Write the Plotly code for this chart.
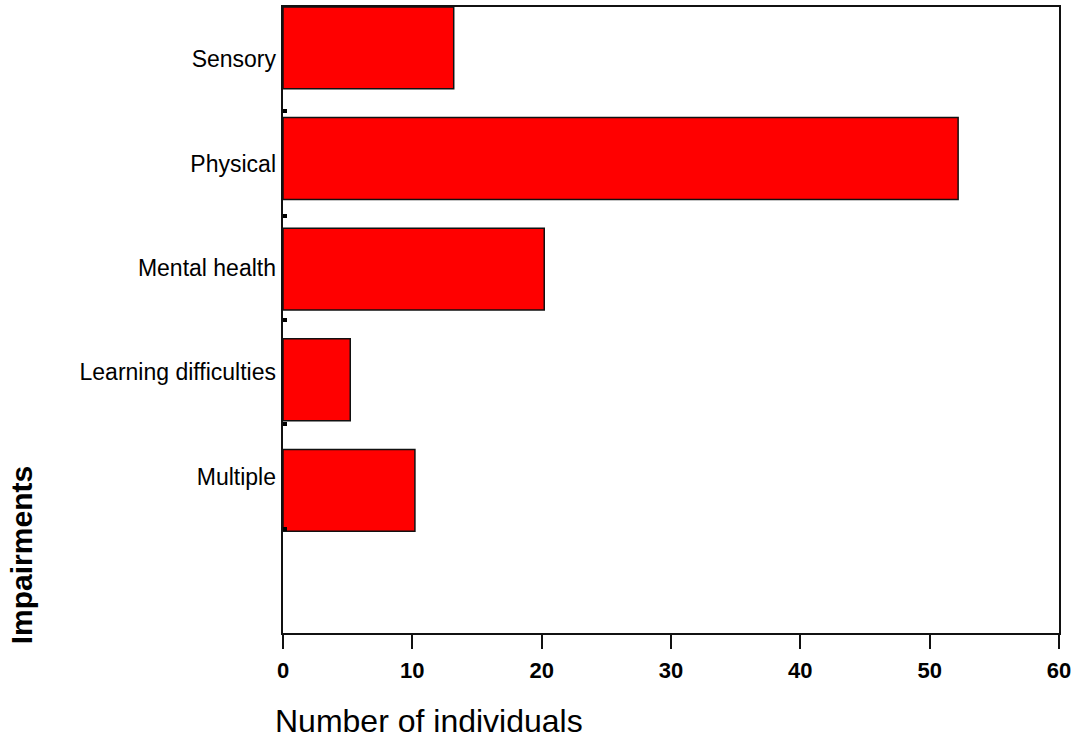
import plotly.graph_objects as go

categories = ["Sensory", "Physical", "Mental health", "Learning difficulties", "Multiple"]
counts = [13.2, 52.2, 20.2, 5.2, 10.2]
x_ticks = [0, 10, 20, 30, 40, 50, 60]
x_title = "Number of individuals"
y_title = "Impairments"

FONT = "Liberation Sans, Arial, sans-serif"

fig = go.Figure()
fig.add_trace(go.Bar(
    x=counts, y=categories, orientation="h",
    marker=dict(color="#FF0000", line=dict(color="#111111", width=1.5)),
    showlegend=False, yaxis="y",
))
# invisible trace carrying the label axis
fig.add_trace(go.Scatter(x=[None], y=[None], yaxis="y2", mode="markers",
                         showlegend=False, hoverinfo="skip"))

fig.update_layout(
    width=1077, height=742,
    margin=dict(l=283, r=18, t=5, b=109),
    paper_bgcolor="white", plot_bgcolor="white",
    bargap=0.26,
    font=dict(family=FONT, color="black"),
    xaxis=dict(
        range=[0, 60], tickvals=x_ticks, ticktext=["<b>%d</b>" % v for v in x_ticks],
        ticks="outside", ticklen=14, tickwidth=2, tickcolor="#111111",
        showline=True, linecolor="#111111", linewidth=2, mirror=True,
        showgrid=False, zeroline=False,
        tickfont=dict(size=22, family=FONT, color="black"),
        ticklabelstandoff=3,
    ),
    yaxis=dict(
        type="category", categoryorder="array", categoryarray=categories,
        range=[5.289, -0.369],
        showticklabels=False, ticks="",
        showline=True, linecolor="#111111", linewidth=2, mirror=True,
        showgrid=False, zeroline=False,
    ),
    yaxis2=dict(
        overlaying="y", side="left", range=[6, 0],
        tickvals=[0.5, 1.5, 2.5, 3.5, 4.5], ticktext=categories,
        ticks="", showline=False, showgrid=False, zeroline=False,
        tickfont=dict(size=23, family=FONT, color="black"),
        minor=dict(tickvals=[1, 2, 3, 4, 5], ticks="inside", ticklen=4,
                   tickwidth=4, tickcolor="black"),
        ticklabelstandoff=6,
    ),
    annotations=[
        dict(text=x_title, xref="paper", yref="paper", x=-0.013, y=-0.141,
             xanchor="left", yanchor="middle", showarrow=False,
             font=dict(size=32, family=FONT, color="black")),
        dict(text="<b>" + y_title + "</b>", xref="paper", yref="paper",
             x=-0.337, y=0.125, xanchor="center", yanchor="middle",
             textangle=-90, showarrow=False,
             font=dict(size=30, family=FONT, color="black")),
    ],
)

fig.write_html("out.html", config={"displayModeBar": False},
               post_script="document.body.style.margin='0px';document.body.style.padding='0px';")
